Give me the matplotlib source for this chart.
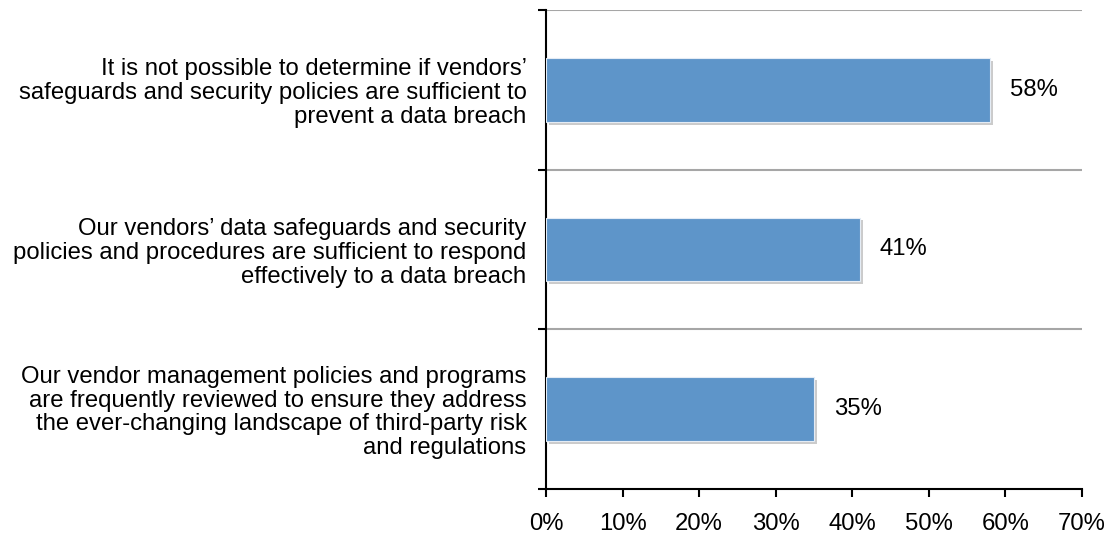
import matplotlib
matplotlib.use("Agg")
import matplotlib.pyplot as plt
import matplotlib.patheffects as pe
import numpy as np

plt.rcParams['font.family'] = ['Liberation Sans', 'DejaVu Sans']

# survey statements, top to bottom
statements = [
    "It is not possible to determine if vendors\u2019\nsafeguards and security policies are sufficient to\nprevent a data breach",
    "Our vendors\u2019 data safeguards and security\npolicies and procedures are sufficient to respond\neffectively to a data breach",
    "Our vendor management policies and programs\nare frequently reviewed to ensure they address\nthe ever-changing landscape of third-party risk\nand regulations",
]
pct = [58, 41, 35]
xticks = [0, 10, 20, 30, 40, 50, 60, 70]

FS = 17.2

fig = plt.figure(figsize=(11.1, 5.33), dpi=100)
ax = fig.add_axes([0.4919, 0.0826, 0.4829, 0.8986])

y = np.arange(len(statements))
bars = ax.barh(y, pct, height=0.4, color='#5E95C9', edgecolor='#E4ECF5',
               linewidth=0.8, zorder=3)
for b in bars:
    b.set_path_effects([pe.SimplePatchShadow(offset=(2, -2), shadow_rgbFace='#999999', alpha=0.5),
                        pe.Normal()])

for yi, v in zip(y, pct):
    ax.text(v + 2.6, yi, f"{v}%", va='center', ha='left', fontsize=FS)

ax.set_xlim(0, 70)
ax.set_ylim(len(statements) - 0.5, -0.5)
ax.set_xticks(xticks)
ax.set_xticklabels([f"{t}%" for t in xticks], fontsize=FS)

# category boundaries for ticks and gridlines
ax.set_yticks(np.arange(-0.5, len(statements), 1.0))
ax.set_yticklabels([])
ax.set_yticks(y, minor=True)
ax.set_yticklabels(statements, minor=True, fontsize=FS, linespacing=1.1)
ax.tick_params(axis='y', which='minor', length=0, pad=14)
ax.tick_params(axis='y', which='major', length=6, width=1.5, direction='out')
ax.tick_params(axis='x', length=6, width=1.5, direction='out', pad=11)

for gy in np.arange(-0.5, len(statements) - 1, 1.0):
    ax.axhline(gy, color='#A6A6A6', linewidth=1.5, zorder=1)

for s in ['top', 'right']:
    ax.spines[s].set_visible(False)
for s in ['left', 'bottom']:
    ax.spines[s].set_linewidth(1.5)

fig.savefig("out.png", dpi=100)
